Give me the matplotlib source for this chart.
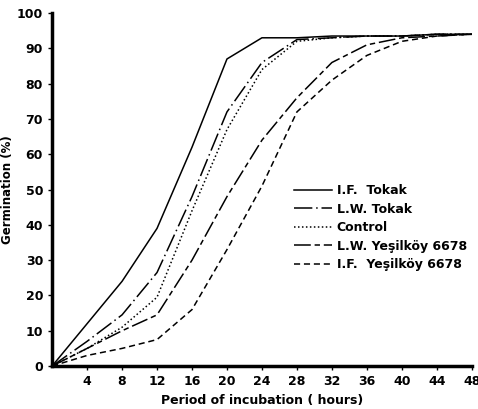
import matplotlib
matplotlib.use("Agg")
import matplotlib.pyplot as plt

# hours of incubation
hours = [0, 4, 8, 12, 16, 20, 24, 28, 32, 36, 40, 44, 48]

# germination (%)
if_tokak = [0, 12, 24, 39, 62, 87, 93, 93, 93.5, 93.5, 93.5, 94, 94]
lw_tokak = [0, 7, 14.5, 26.5, 48, 72, 86, 92.5, 93, 93.5, 93.5, 94, 94]
control = [0, 5, 11, 19.5, 44, 67, 84, 92, 93, 93.5, 93.5, 94, 94]
lw_yesilkoy = [0, 5, 10, 14.5, 30, 48, 64, 76, 86, 91, 93, 93.5, 94]
if_yesilkoy = [0, 3, 5, 7.5, 16, 33, 51, 72, 81, 88, 92, 93.5, 94]

labels = ["I.F.  Tokak", "L.W. Tokak", "Control",
          "L.W. Yeşilköy 6678", "I.F.  Yeşilköy 6678"]
x_ticks = [4, 8, 12, 16, 20, 24, 28, 32, 36, 40, 44, 48]
y_ticks = [0, 10, 20, 30, 40, 50, 60, 70, 80, 90, 100]

plt.rcParams['font.family'] = ['DejaVu Sans']

fig = plt.figure(figsize=(4.78, 4.09), dpi=100)
ax = fig.add_axes([0.109, 0.105, 0.878, 0.863])

lw = 1.1
ax.plot(hours, if_tokak, color='black', lw=lw, linestyle='-', label=labels[0])
ax.plot(hours, lw_tokak, color='black', lw=lw, linestyle=(0, (12, 2.5, 1, 2.5)), label=labels[1])
ax.plot(hours, control, color='black', lw=lw, linestyle=(0, (1, 1.6)), label=labels[2])
ax.plot(hours, lw_yesilkoy, color='black', lw=lw, linestyle=(0, (11, 2.5, 3.5, 2.5)), label=labels[3])
ax.plot(hours, if_yesilkoy, color='black', lw=lw, linestyle=(0, (4, 2.5)), label=labels[4])

ax.set_xlim(0, 48)
ax.set_ylim(0, 100)
ax.set_xticks(x_ticks)
ax.set_yticks(y_ticks)
ax.tick_params(labelsize=9, length=3, width=1)
for t in ax.get_xticklabels() + ax.get_yticklabels():
    t.set_fontweight('bold')

ax.spines['top'].set_visible(False)
ax.spines['right'].set_visible(False)
ax.spines['left'].set_linewidth(2.5)
ax.spines['bottom'].set_linewidth(2.5)

ax.set_xlabel("Period of incubation ( hours)", fontsize=9, fontweight='bold', labelpad=4)
ax.set_ylabel("Germination (%)", fontsize=8.5, fontweight='bold')
ax.yaxis.set_label_coords(-0.09, 0.5)

leg = ax.legend(loc='upper left', bbox_to_anchor=(0.565, 0.53), frameon=False,
                fontsize=9, handlelength=3.0, handletextpad=0.4, labelspacing=0.45,
                borderaxespad=0)
for t in leg.get_texts():
    t.set_fontweight('bold')

fig.savefig("out.png", dpi=100)
